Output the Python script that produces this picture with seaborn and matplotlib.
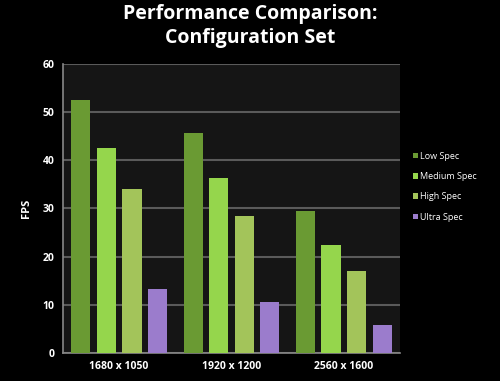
import matplotlib
matplotlib.use("Agg")
import matplotlib.pyplot as plt
import seaborn as sns
import pandas as pd

resolutions = ["1680 x 1050", "1920 x 1200", "2560 x 1600"]
series = ["Low Spec", "Medium Spec", "High Spec", "Ultra Spec"]
low_spec = [52.5, 45.7, 29.5]
medium_spec = [42.5, 36.3, 22.5]
high_spec = [34.0, 28.5, 17.1]
ultra_spec = [13.2, 10.6, 5.9]
colors = ["#6a9a33", "#95d64c", "#a3c45a", "#9b7ccc"]
yticks = [0, 10, 20, 30, 40, 50, 60]

rows = []
for name, vals in zip(series, [low_spec, medium_spec, high_spec, ultra_spec]):
    for r, v in zip(resolutions, vals):
        rows.append({"Resolution": r, "Spec": name, "FPS": v})
df = pd.DataFrame(rows)

sns.set_theme(style="dark")
plt.rcParams['font.family'] = ['Open Sans', 'DejaVu Sans']

fig = plt.figure(figsize=(5, 3.81), dpi=100, facecolor="black")
ax = fig.add_axes([0.126, 0.0735, 0.674, 0.759])
ax.set_facecolor("#151515")

sns.barplot(data=df, x="Resolution", y="FPS", hue="Spec", order=resolutions,
            hue_order=series, palette=colors, width=0.91, gap=0.25,
            ax=ax, saturation=1, edgecolor="none", zorder=3)

ax.set_ylim(0, 60)
ax.set_yticks(yticks)
ax.set_xlim(-0.5, 2.5)
ax.grid(axis="y", color="#5a5a5a", linewidth=1.5, zorder=1)
ax.grid(axis="x", visible=False)
for s in ["top", "right"]:
    ax.spines[s].set_visible(False)
for s in ["left", "bottom"]:
    ax.spines[s].set_visible(True)
    ax.spines[s].set_color("#888888")
    ax.spines[s].set_linewidth(1.2)
ax.tick_params(colors="white", labelsize=7.5, length=0, pad=6)
for lab in ax.get_xticklabels() + ax.get_yticklabels():
    lab.set_fontweight("bold")
ax.set_xlabel("")
ax.set_ylabel("FPS", color="white", fontsize=8, fontweight="bold", labelpad=8)

leg = ax.legend(loc="center left", bbox_to_anchor=(1.0, 0.575), frameon=False,
                labelcolor="white", fontsize=6.5, handlelength=0.6,
                handleheight=0.6, labelspacing=1.25, handletextpad=0.25,
                borderaxespad=1.0)

fig.text(0.5, 0.99, "Performance Comparison:\nConfiguration Set", ha="center",
         va="top", color="white", fontsize=14, fontweight="bold",
         linespacing=1.3)

fig.savefig("out.png", dpi=100, facecolor="black")
